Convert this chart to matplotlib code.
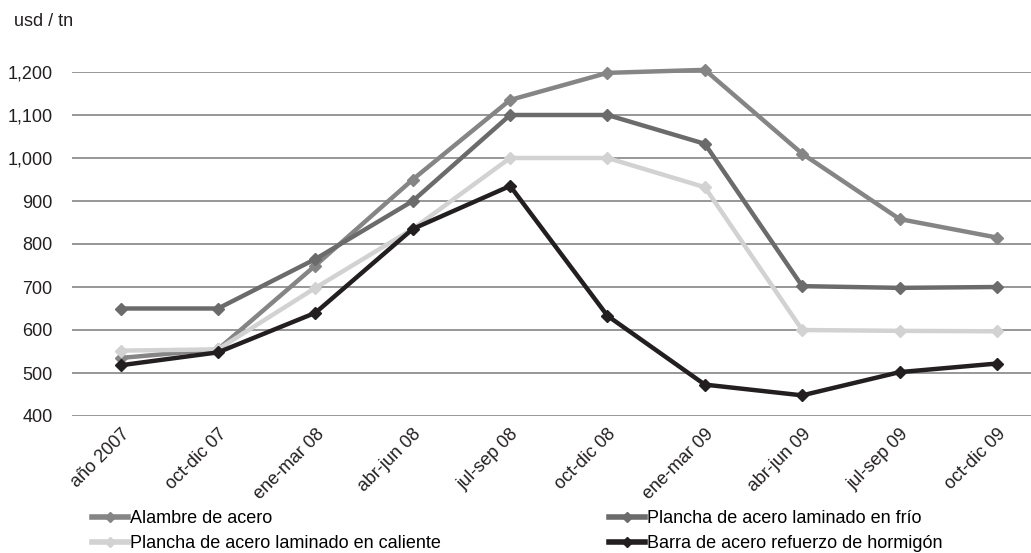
import numpy as np
import matplotlib.pyplot as plt
from matplotlib.ticker import FuncFormatter

plt.rcParams['font.family'] = ['Liberation Sans', 'DejaVu Sans']

periodos = ["año 2007", "oct-dic 07", "ene-mar 08", "abr-jun 08", "jul-sep 08",
            "oct-dic 08", "ene-mar 09", "abr-jun 09", "jul-sep 09", "oct-dic 09"]
alambre = [535, 555, 750, 950, 1135, 1198, 1205, 1010, 858, 815]
frio = [650, 650, 765, 900, 1100, 1100, 1033, 702, 698, 700]
caliente = [552, 555, 698, 835, 1000, 1000, 932, 600, 598, 597]
barra = [518, 548, 640, 835, 935, 633, 473, 448, 502, 522]

x = np.arange(len(periodos))

fig = plt.figure(figsize=(10.31, 5.53), dpi=100)
ax = fig.add_axes([72/1031, 137/553, 959/1031, 344/553])

series = [
	(alambre, "#858585", "Alambre de acero"),
	(frio, "#6b6b6b", "Plancha de acero laminado en frío"),
	(caliente, "#d2d2d2", "Plancha de acero laminado en caliente"),
	(barra, "#231f20", "Barra de acero refuerzo de hormigón"),
]
lines = []
for vals, col, lab in series:
	l, = ax.plot(x, vals, color=col, lw=3.2, marker="D", ms=6, label=lab, clip_on=False, zorder=3)
	lines.append(l)

ax.set_ylim(400, 1200)
ax.set_xlim(-0.5, 9.35)
ax.set_yticks(range(400, 1201, 100))
ax.yaxis.set_major_formatter(FuncFormatter(lambda v, p: "{:,.0f}".format(v)))
ax.grid(axis="y", color="#7a7a7a", lw=1.1)
ax.set_axisbelow(True)
for s in ax.spines.values():
	s.set_visible(False)
ax.tick_params(length=0, labelsize=13, colors="#231f20")
ax.tick_params(axis="y", pad=14)
ax.tick_params(axis="x", pad=7)
ax.set_xticks(x)
ax.set_xticklabels(periodos, rotation=45, ha="right", rotation_mode="anchor", fontsize=13)

fig.text(14/1031, 1 - 22/553, "usd / tn", fontsize=13, va="center", color="#231f20")

leg_font = {'size': 13}
l1 = fig.legend([lines[0], lines[2]], [series[0][2], series[2][2]], loc="upper left",
	bbox_to_anchor=(92/1031, 1 - 510/553), frameon=False, prop=leg_font,
	handlelength=2.0, handletextpad=0.1, labelspacing=0.45, borderaxespad=0, borderpad=0)
l2 = fig.legend([lines[1], lines[3]], [series[1][2], series[3][2]], loc="upper left",
	bbox_to_anchor=(609/1031, 1 - 510/553), frameon=False, prop=leg_font,
	handlelength=2.0, handletextpad=0.1, labelspacing=0.45, borderaxespad=0, borderpad=0)
for lg in (l1, l2):
	for h in lg.legend_handles:
		h.set_markersize(5)
		h.set_linewidth(4)

plt.savefig("out.png", dpi=100)
